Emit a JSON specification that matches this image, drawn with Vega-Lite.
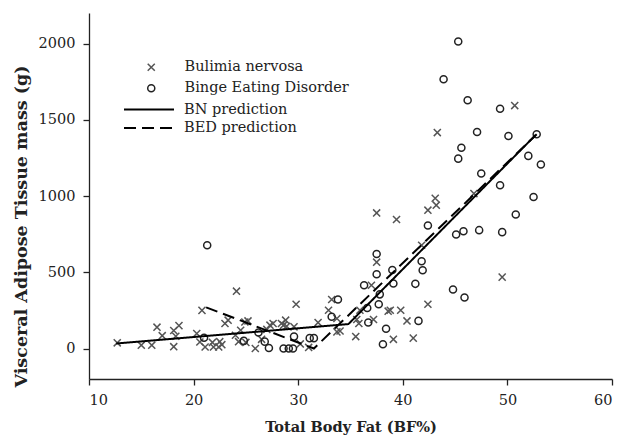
{
  "$schema": "https://vega.github.io/schema/vega-lite/v6.json",
  "width": 523,
  "height": 366,
  "autosize": {"type": "none"},
  "padding": {"left": 89, "top": 13, "right": 9, "bottom": 61},
  "background": "white",
  "config": {
    "view": {"stroke": null},
    "font": "DejaVu Serif",
    "axis": {
      "grid": false,
      "domainColor": "#222",
      "tickColor": "#222",
      "domainWidth": 1.3,
      "tickWidth": 1.3,
      "tickSize": 6,
      "labelFont": "DejaVu Serif",
      "labelFontSize": 14.5,
      "labelColor": "#222",
      "titleFont": "DejaVu Serif",
      "titleFontSize": 14.5,
      "titleFontWeight": "bold",
      "titleColor": "#222"
    },
    "legend": {
      "labelFont": "DejaVu Serif",
      "labelFontSize": 14.5,
      "labelColor": "#222",
      "labelLimit": 400,
      "padding": 0
    }
  },
  "layer": [
    {
      "data": {
        "values": [
          {"x": 12.7, "y": 37, "group": "Bulimia nervosa"},
          {"x": 15.0, "y": 22, "group": "Bulimia nervosa"},
          {"x": 16.0, "y": 22, "group": "Bulimia nervosa"},
          {"x": 16.5, "y": 140, "group": "Bulimia nervosa"},
          {"x": 17.0, "y": 84, "group": "Bulimia nervosa"},
          {"x": 18.1, "y": 118, "group": "Bulimia nervosa"},
          {"x": 18.6, "y": 150, "group": "Bulimia nervosa"},
          {"x": 18.3, "y": 80, "group": "Bulimia nervosa"},
          {"x": 18.1, "y": 12, "group": "Bulimia nervosa"},
          {"x": 20.8, "y": 250, "group": "Bulimia nervosa"},
          {"x": 20.3, "y": 98, "group": "Bulimia nervosa"},
          {"x": 20.6, "y": 43, "group": "Bulimia nervosa"},
          {"x": 21.1, "y": 10, "group": "Bulimia nervosa"},
          {"x": 21.9, "y": 10, "group": "Bulimia nervosa"},
          {"x": 22.4, "y": 10, "group": "Bulimia nervosa"},
          {"x": 22.7, "y": 25, "group": "Bulimia nervosa"},
          {"x": 21.8, "y": 40, "group": "Bulimia nervosa"},
          {"x": 22.5, "y": 45, "group": "Bulimia nervosa"},
          {"x": 23.0, "y": 164, "group": "Bulimia nervosa"},
          {"x": 23.3, "y": 186, "group": "Bulimia nervosa"},
          {"x": 24.0, "y": 87, "group": "Bulimia nervosa"},
          {"x": 24.5, "y": 120, "group": "Bulimia nervosa"},
          {"x": 24.3, "y": 45, "group": "Bulimia nervosa"},
          {"x": 25.0, "y": 40, "group": "Bulimia nervosa"},
          {"x": 24.1, "y": 376, "group": "Bulimia nervosa"},
          {"x": 24.9, "y": 174, "group": "Bulimia nervosa"},
          {"x": 25.2, "y": 181, "group": "Bulimia nervosa"},
          {"x": 25.9, "y": 0, "group": "Bulimia nervosa"},
          {"x": 26.5, "y": 60, "group": "Bulimia nervosa"},
          {"x": 27.3, "y": 153, "group": "Bulimia nervosa"},
          {"x": 27.6, "y": 164, "group": "Bulimia nervosa"},
          {"x": 28.4, "y": 164, "group": "Bulimia nervosa"},
          {"x": 28.8, "y": 186, "group": "Bulimia nervosa"},
          {"x": 28.9, "y": 146, "group": "Bulimia nervosa"},
          {"x": 29.6, "y": 142, "group": "Bulimia nervosa"},
          {"x": 28.6, "y": 153, "group": "Bulimia nervosa"},
          {"x": 27.0, "y": 125, "group": "Bulimia nervosa"},
          {"x": 29.8, "y": 290, "group": "Bulimia nervosa"},
          {"x": 30.2, "y": 30, "group": "Bulimia nervosa"},
          {"x": 31.0, "y": 7, "group": "Bulimia nervosa"},
          {"x": 31.9, "y": 170, "group": "Bulimia nervosa"},
          {"x": 32.9, "y": 251, "group": "Bulimia nervosa"},
          {"x": 33.7, "y": 197, "group": "Bulimia nervosa"},
          {"x": 33.2, "y": 321, "group": "Bulimia nervosa"},
          {"x": 33.7, "y": 109, "group": "Bulimia nervosa"},
          {"x": 34.0, "y": 115, "group": "Bulimia nervosa"},
          {"x": 35.5, "y": 78, "group": "Bulimia nervosa"},
          {"x": 35.6, "y": 190, "group": "Bulimia nervosa"},
          {"x": 35.9, "y": 251, "group": "Bulimia nervosa"},
          {"x": 35.8, "y": 164, "group": "Bulimia nervosa"},
          {"x": 37.2, "y": 190, "group": "Bulimia nervosa"},
          {"x": 37.0, "y": 415, "group": "Bulimia nervosa"},
          {"x": 37.5, "y": 566, "group": "Bulimia nervosa"},
          {"x": 37.5, "y": 889, "group": "Bulimia nervosa"},
          {"x": 38.6, "y": 245, "group": "Bulimia nervosa"},
          {"x": 38.8, "y": 251, "group": "Bulimia nervosa"},
          {"x": 39.8, "y": 251, "group": "Bulimia nervosa"},
          {"x": 39.4, "y": 846, "group": "Bulimia nervosa"},
          {"x": 40.4, "y": 181, "group": "Bulimia nervosa"},
          {"x": 39.1, "y": 60, "group": "Bulimia nervosa"},
          {"x": 41.0, "y": 68, "group": "Bulimia nervosa"},
          {"x": 42.4, "y": 290, "group": "Bulimia nervosa"},
          {"x": 41.8, "y": 677, "group": "Bulimia nervosa"},
          {"x": 42.4, "y": 907, "group": "Bulimia nervosa"},
          {"x": 43.1, "y": 985, "group": "Bulimia nervosa"},
          {"x": 43.2, "y": 940, "group": "Bulimia nervosa"},
          {"x": 43.3, "y": 1416, "group": "Bulimia nervosa"},
          {"x": 46.8, "y": 1016, "group": "Bulimia nervosa"},
          {"x": 49.5, "y": 468, "group": "Bulimia nervosa"},
          {"x": 50.7, "y": 1593, "group": "Bulimia nervosa"},
          {"x": 21.3, "y": 677, "group": "Binge Eating Disorder"},
          {"x": 21.0, "y": 70, "group": "Binge Eating Disorder"},
          {"x": 24.8, "y": 50, "group": "Binge Eating Disorder"},
          {"x": 26.2, "y": 105, "group": "Binge Eating Disorder"},
          {"x": 26.8, "y": 45, "group": "Binge Eating Disorder"},
          {"x": 27.2, "y": 3, "group": "Binge Eating Disorder"},
          {"x": 28.6, "y": 0, "group": "Binge Eating Disorder"},
          {"x": 29.1, "y": 0, "group": "Binge Eating Disorder"},
          {"x": 29.5, "y": 0, "group": "Binge Eating Disorder"},
          {"x": 29.6, "y": 78, "group": "Binge Eating Disorder"},
          {"x": 31.1, "y": 68, "group": "Binge Eating Disorder"},
          {"x": 31.5, "y": 68, "group": "Binge Eating Disorder"},
          {"x": 33.2, "y": 208, "group": "Binge Eating Disorder"},
          {"x": 33.8, "y": 321, "group": "Binge Eating Disorder"},
          {"x": 36.3, "y": 415, "group": "Binge Eating Disorder"},
          {"x": 36.6, "y": 265, "group": "Binge Eating Disorder"},
          {"x": 36.7, "y": 170, "group": "Binge Eating Disorder"},
          {"x": 37.5, "y": 620, "group": "Binge Eating Disorder"},
          {"x": 37.5, "y": 487, "group": "Binge Eating Disorder"},
          {"x": 37.7, "y": 290, "group": "Binge Eating Disorder"},
          {"x": 37.8, "y": 355, "group": "Binge Eating Disorder"},
          {"x": 38.1, "y": 28, "group": "Binge Eating Disorder"},
          {"x": 38.4, "y": 129, "group": "Binge Eating Disorder"},
          {"x": 39.0, "y": 515, "group": "Binge Eating Disorder"},
          {"x": 39.1, "y": 426, "group": "Binge Eating Disorder"},
          {"x": 41.2, "y": 424, "group": "Binge Eating Disorder"},
          {"x": 41.5, "y": 181, "group": "Binge Eating Disorder"},
          {"x": 41.8, "y": 572, "group": "Binge Eating Disorder"},
          {"x": 41.9, "y": 513, "group": "Binge Eating Disorder"},
          {"x": 42.4, "y": 807, "group": "Binge Eating Disorder"},
          {"x": 44.8, "y": 387, "group": "Binge Eating Disorder"},
          {"x": 45.1, "y": 748, "group": "Binge Eating Disorder"},
          {"x": 45.8, "y": 769, "group": "Binge Eating Disorder"},
          {"x": 45.9, "y": 334, "group": "Binge Eating Disorder"},
          {"x": 47.3, "y": 776, "group": "Binge Eating Disorder"},
          {"x": 49.5, "y": 763, "group": "Binge Eating Disorder"},
          {"x": 50.8, "y": 879, "group": "Binge Eating Disorder"},
          {"x": 52.5, "y": 994, "group": "Binge Eating Disorder"},
          {"x": 49.3, "y": 1071, "group": "Binge Eating Disorder"},
          {"x": 47.5, "y": 1147, "group": "Binge Eating Disorder"},
          {"x": 53.2, "y": 1207, "group": "Binge Eating Disorder"},
          {"x": 52.0, "y": 1263, "group": "Binge Eating Disorder"},
          {"x": 45.3, "y": 1245, "group": "Binge Eating Disorder"},
          {"x": 45.6, "y": 1316, "group": "Binge Eating Disorder"},
          {"x": 47.1, "y": 1420, "group": "Binge Eating Disorder"},
          {"x": 50.1, "y": 1394, "group": "Binge Eating Disorder"},
          {"x": 52.8, "y": 1405, "group": "Binge Eating Disorder"},
          {"x": 49.3, "y": 1572, "group": "Binge Eating Disorder"},
          {"x": 46.2, "y": 1628, "group": "Binge Eating Disorder"},
          {"x": 43.9, "y": 1766, "group": "Binge Eating Disorder"},
          {"x": 45.3, "y": 2013, "group": "Binge Eating Disorder"}
        ]
      },
      "mark": {"type": "point", "filled": false, "size": 50, "strokeWidth": 1.5, "opacity": 1},
      "encoding": {
        "x": {
          "field": "x", "type": "quantitative",
          "scale": {"domain": [10, 60], "nice": false, "zero": false},
          "axis": {"values": [10, 20, 30, 40, 50, 60], "title": "Total Body Fat (BF%)", "labelPadding": 8, "titlePadding": 14}
        },
        "y": {
          "field": "y", "type": "quantitative",
          "scale": {"domain": [-200, 2200], "nice": false, "zero": false},
          "axis": {"values": [0, 500, 1000, 1500, 2000], "format": "d", "title": "Visceral Adipose Tissue mass (g)", "labelPadding": 8, "titleFontSize": 17.5, "titleX": -68, "titleY": 213, "titleAngle": 270, "titleAlign": "center", "titleBaseline": "middle"}
        },
        "shape": {
          "field": "group", "type": "nominal",
          "scale": {"domain": ["Bulimia nervosa", "Binge Eating Disorder"], "range": ["M-1,-1L1,1M-1,1L1,-1", "circle"]},
          "legend": {"title": null, "orient": "none", "legendX": 55, "legendY": 47, "symbolSize": 50, "symbolStrokeWidth": 1.5, "symbolFillColor": "transparent", "labelOffset": 26, "rowPadding": 6}
        },
        "stroke": {
          "field": "group", "type": "nominal",
          "scale": {"domain": ["Bulimia nervosa", "Binge Eating Disorder"], "range": ["#555555", "#222222"]},
          "legend": {"title": null, "orient": "none", "legendX": 55, "legendY": 47, "symbolSize": 50, "symbolStrokeWidth": 1.5, "symbolFillColor": "transparent", "labelOffset": 26, "rowPadding": 6}
        }
      }
    },
    {
      "data": {
        "values": [
          {"x": 12.6, "y": 33, "series": "BN prediction"},
          {"x": 34.8, "y": 160, "series": "BN prediction"},
          {"x": 52.7, "y": 1400, "series": "BN prediction"},
          {"x": 21.2, "y": 270, "series": "BED prediction"},
          {"x": 31.5, "y": 0, "series": "BED prediction"},
          {"x": 52.8, "y": 1405, "series": "BED prediction"}
        ]
      },
      "mark": {"type": "line", "color": "black", "strokeWidth": 2},
      "encoding": {
        "x": {"field": "x", "type": "quantitative"},
        "y": {"field": "y", "type": "quantitative"},
        "detail": {"field": "series", "type": "nominal"},
        "strokeDash": {
          "field": "series", "type": "nominal",
          "scale": {"domain": ["BN prediction", "BED prediction"], "range": [[1, 0], [12, 6]]},
          "legend": {"title": null, "orient": "none", "legendX": 49, "legendY": 85.5, "symbolType": "M-2.5,0L2.5,0", "symbolSize": 400, "symbolStrokeWidth": 2, "symbolStrokeColor": "black", "labelOffset": 24, "rowPadding": 0.5}
        }
      }
    }
  ]
}
